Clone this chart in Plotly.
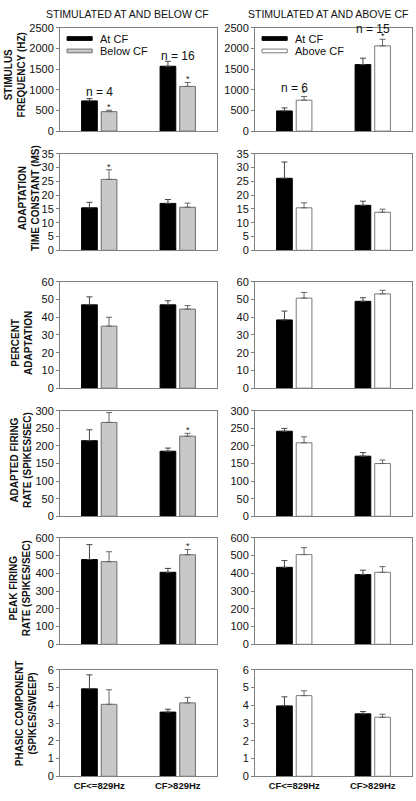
import plotly.graph_objects as go
from plotly.subplots import make_subplots

W, H = 416, 801

groups = ["CF<=829Hz", "CF>829Hz"]
panel_titles = ["STIMULATED AT AND BELOW CF", "STIMULATED AT AND ABOVE CF"]
row_titles = ["STIMULUS<br>FREQUENCY (HZ)", "ADAPTATION<br>TIME CONSTANT (MS)",
              "PERCENT<br>ADAPTATION", "ADAPTED FIRING<br>RATE (SPIKES/SEC)",
              "PEAK FIRING<br>RATE (SPIKES/SEC)", "PHASIC COMPONENT<br>(SPIKES/SWEEP)"]
y_max = [2500, 35, 60, 300, 600, 6]
y_dtick = [500, 5, 10, 50, 100, 1]

# Left panel: stimulated at and below CF
L_at_cf_mean = [[730, 1567], [15.4, 17.0], [47, 47], [215, 185], [478, 406], [4.93, 3.62]]
L_at_cf_err = [[55, 120], [2.0, 1.4], [4.5, 2.3], [31, 9], [84, 22], [0.79, 0.16]]
L_below_mean = [[470, 1080], [25.7, 15.6], [35, 44.6], [267, 228], [466, 505], [4.06, 4.14]]
L_below_err = [[35, 95], [3.5, 1.5], [5, 2], [28, 8], [56, 30], [0.82, 0.31]]
# Right panel: stimulated at and above CF
R_at_cf_mean = [[487, 1607], [26.1, 16.3], [38.5, 49], [242, 171], [434, 393], [3.97, 3.52]]
R_at_cf_err = [[73, 155], [5.9, 1.5], [5, 2], [8, 10], [38, 25], [0.51, 0.13]]
R_above_mean = [[747, 2060], [15.4, 13.8], [50.8, 53.2], [209, 150], [506, 406], [4.55, 3.33]]
R_above_err = [[90, 160], [1.8, 1.1], [3.2, 2], [17, 10], [39, 32], [0.27, 0.17]]

# significance stars: (panel, row, group)
stars = [(0, 0, 0), (0, 0, 1), (0, 1, 0), (0, 3, 1), (0, 4, 1), (1, 0, 0), (1, 0, 1)]
# sample size labels (row 0)
n_labels = [["n = 4", "n = 16"], ["n = 6", "n = 15"]]
n_label_y = [[935, 1822], [1051, 2460]]

legend_names = [["At CF", "Below CF"], ["At CF", "Above CF"]]

rows_px = [(22, 127), (150, 248), (280, 388), (411, 518), (540, 648), (674, 782)]
col_px = [(60, 217), (255, 412)]
title_x = [14.5, 29, 22, 21, 20, 26]
title_y = [70, 195, 342, 461, 591, 718]

FONT = "Liberation Sans, Arial, sans-serif"
GRAY = "#808080"
bargap = 0.5

fig = make_subplots(rows=6, cols=2)

series = [
    [(L_at_cf_mean, L_at_cf_err, "black", "black", "#444"),
     (L_below_mean, L_below_err, "#c8c8c8", "#6e6e6e", "#666")],
    [(R_at_cf_mean, R_at_cf_err, "black", "black", "#444"),
     (R_above_mean, R_above_err, "white", "#7a7a7a", "#666")],
]

for r in range(6):
    for c in range(2):
        top, bot = rows_px[r]
        x0, x1 = col_px[c]
        fig.update_xaxes(domain=[x0 / W, x1 / W], row=r + 1, col=c + 1)
        fig.update_yaxes(domain=[1 - bot / H, 1 - top / H], row=r + 1, col=c + 1)
        for mean, err, fill, edge, ecol in series[c]:
            fig.add_trace(go.Bar(
                x=[0, 1], y=mean[r],
                marker=dict(color=fill, line=dict(color=edge, width=1)),
                error_y=dict(type="data", array=err[r], arrayminus=[0, 0], symmetric=False,
                             color=ecol, thickness=1, width=3),
                showlegend=False, hoverinfo="skip"), row=r + 1, col=c + 1)
        fig.update_yaxes(range=[0, y_max[r]], dtick=y_dtick[r], row=r + 1, col=c + 1)

fig.update_xaxes(range=[-0.5, 1.5], tickvals=[0, 1],
                 ticktext=["<b>%s</b>" % g.replace("<", "&lt;").replace(">", "&gt;") for g in groups],
                 showticklabels=False, showline=True, mirror=True, linecolor=GRAY, linewidth=1,
                 showgrid=False, zeroline=False, ticks="",
                 tickfont=dict(family=FONT, size=9.5, color="#111"))
fig.update_xaxes(showticklabels=True, row=6)
fig.update_yaxes(showline=True, mirror=True, linecolor=GRAY, linewidth=1, showgrid=False,
                 zeroline=False, ticks="outside", ticklen=3, tickcolor=GRAY,
                 tickfont=dict(family=FONT, size=11, color="#111"))

ann = []
# panel titles
for c in range(2):
    ann.append(dict(text=panel_titles[c], xref="paper", yref="paper",
                    x=((col_px[c][0] + col_px[c][1]) / 2 + (-11 if c == 0 else -6)) / W,
                    y=1 - 8 / H, xanchor="center", yanchor="middle", showarrow=False,
                    font=dict(family=FONT, size=10.5, color="#111")))
# row titles
for r in range(6):
    ann.append(dict(text="<b>%s</b>" % row_titles[r], xref="paper", yref="paper",
                    x=title_x[r] / W, y=1 - title_y[r] / H, textangle=-90,
                    xanchor="center", yanchor="middle", showarrow=False,
                    font=dict(family=FONT, size=10, color="#111")))

# stars above second bar's error bar
slot = (1 - bargap) / 2
for (c, r, g) in stars:
    mean, err = series[c][1][0], series[c][1][1]
    axis_n = r * 2 + c + 1
    ax = "" if axis_n == 1 else str(axis_n)
    ann.append(dict(text="*", xref="x" + ax, yref="y" + ax, x=g + slot / 2,
                    y=mean[r][g] + err[r][g], yanchor="bottom", xanchor="center",
                    yshift=-4, showarrow=False, font=dict(family=FONT, size=9, color="#222")))

# n labels
for c in range(2):
    ax = "" if c == 0 else "2"
    for g in range(2):
        ann.append(dict(text=n_labels[c][g], xref="x" + ax, yref="y" + ax, x=g,
                        y=n_label_y[c][g], xanchor="center", yanchor="middle",
                        showarrow=False, font=dict(family=FONT, size=12, color="#111")))

# legends (in first-row panels)
shapes = []
for c in range(2):
    ax = "" if c == 0 else "2"
    for i, (mean, err, fill, edge, ecol) in enumerate(series[c]):
        yc = [0.895, 0.775][i]
        shapes.append(dict(type="rect", xref="x%s domain" % ax, yref="y%s domain" % ax,
                           x0=0.045, x1=0.205, y0=yc - 0.018, y1=yc + 0.018,
                           fillcolor=fill, line=dict(color=edge, width=1)))
        ann.append(dict(text=legend_names[c][i], xref="x%s domain" % ax, yref="y%s domain" % ax,
                        x=0.24, y=yc, xanchor="left", yanchor="middle", showarrow=False,
                        font=dict(family=FONT, size=11, color="#111")))

fig.update_layout(width=W, height=H, margin=dict(l=0, r=0, t=0, b=0),
                  paper_bgcolor="white", plot_bgcolor="white",
                  barmode="group", bargap=bargap, bargroupgap=0.2,
                  annotations=ann, shapes=shapes, showlegend=False,
                  font=dict(family=FONT, color="#111"))

fig.write_html("out.html", config={"displayModeBar": False},
               post_script="document.body.style.margin='0';document.body.style.overflow='hidden';")
